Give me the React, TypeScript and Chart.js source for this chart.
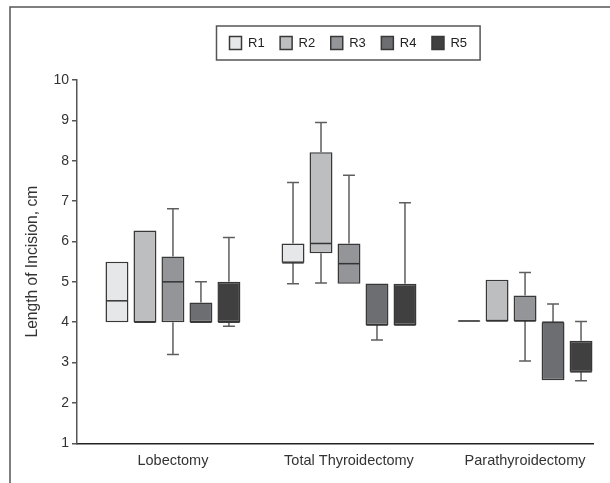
import React, { useEffect, useRef } from 'react';
import { Chart, registerables } from 'chart.js';

Chart.register(...registerables);

const categories = ['Lobectomy', 'Total Thyroidectomy', 'Parathyroidectomy'];
const seriesNames = ['R1', 'R2', 'R3', 'R4', 'R5'];
const seriesColors = ['#e6e7e8', '#bdbec0', '#939598', '#6d6e71', '#404041'];

// per series (R1..R5), per category
const minValues = [
  [4.0, 4.95, 4.02],
  [4.0, 4.97, 4.03],
  [3.2, 4.95, 3.04],
  [4.0, 3.56, 2.56],
  [3.9, 3.93, 2.55],
];
const q1Values = [
  [4.0, 5.47, 4.02],
  [4.0, 5.71, 4.03],
  [4.0, 4.95, 4.03],
  [4.0, 3.93, 2.56],
  [4.0, 3.93, 2.77],
];
const medianValues = [
  [4.53, 5.47, 4.03],
  [4.0, 5.95, 4.03],
  [5.0, 5.45, 4.03],
  [4.0, 3.93, 4.0],
  [4.0, 3.93, 2.77],
];
const q3Values = [
  [5.5, 5.95, 4.04],
  [6.27, 8.21, 5.05],
  [5.63, 5.95, 4.66],
  [4.49, 4.96, 4.0],
  [5.0, 4.95, 3.54],
];
const maxValues = [
  [5.5, 7.46, 4.04],
  [6.27, 8.95, 5.05],
  [6.81, 7.64, 5.23],
  [5.0, 4.96, 4.45],
  [6.1, 6.96, 4.02],
];
const yTickValues = [1, 2, 3, 4, 5, 6, 7, 8, 9, 10];

const family = '"Liberation Sans", Arial, Helvetica, sans-serif';

export default function App() {
  const ref = useRef<HTMLCanvasElement | null>(null);

  useEffect(() => {
    if (!ref.current) return;

    const yTickFont = 14;
    const xTickFont = 14.5;
    const titleFont = 15.6;
    const legendFont = 13;
    const boxW = 12;
    const boxH = 13;
    const legendPad = 15.5;
    const plotTop = 80;
    const legendH = Math.max(legendFont, boxH) + legendPad + 10;

    const frame = {
      id: 'frame',
      beforeDraw(chart: any) {
        const { ctx } = chart;
        ctx.save();
        ctx.strokeStyle = '#555';
        ctx.lineWidth = 1.5;
        ctx.beginPath();
        ctx.moveTo(10, chart.height);
        ctx.lineTo(10, 7);
        ctx.lineTo(chart.width, 7);
        ctx.stroke();
        ctx.restore();
      },
    };

    const legendPlace = {
      id: 'legendPlace',
      afterLayout(chart: any) {
        const lg = chart.legend;
        if (!lg || !lg.lineWidths) return;
        const rowStart = (lg.left + legendPad + lg.right - lg.lineWidths[0]) / 2;
        const dx = 229.5 - rowStart;
        lg.left += dx;
        lg.right += dx;
        const wantTop = 36.5 - legendPad - Math.max((legendFont - boxH) / 2, 0);
        const dy = wantTop - lg.top;
        lg.top += dy;
        lg.bottom += dy;
      },
      afterDraw(chart: any) {
        const lg = chart.legend;
        if (!lg || !lg.lineWidths) return;
        const rowStart = (lg.left + legendPad + lg.right - lg.lineWidths[0]) / 2;
        const rowEnd = rowStart + lg.lineWidths[0] - legendPad;
        const boxTop = lg.top + legendPad + Math.max((legendFont - boxH) / 2, 0);
        const { ctx } = chart;
        ctx.save();
        ctx.strokeStyle = '#555';
        ctx.lineWidth = 1.5;
        ctx.strokeRect(rowStart - 13, boxTop - 10.5, rowEnd - rowStart + 26, boxH + 21);
        ctx.restore();
      },
    };

    const boxExtras = {
      id: 'boxExtras',
      afterDatasetsDraw(chart: any) {
        const { ctx } = chart;
        const y = chart.scales.y;
        chart.data.datasets.forEach((_ds: any, s: number) => {
          const meta = chart.getDatasetMeta(s);
          meta.data.forEach((bar: any, i: number) => {
            const { x, width } = bar.getProps(['x', 'width'], true);
            const half = width / 2;
            const cap = width * 0.26;
            const pMin = y.getPixelForValue(minValues[s][i]);
            const pQ1 = y.getPixelForValue(q1Values[s][i]);
            const pMed = y.getPixelForValue(medianValues[s][i]);
            const pQ3 = y.getPixelForValue(q3Values[s][i]);
            const pMax = y.getPixelForValue(maxValues[s][i]);
            ctx.save();
            ctx.lineWidth = 1.5;
            ctx.strokeStyle = '#5e5e5e';
            ctx.beginPath();
            if (pQ3 - pMax > 0.5) {
              ctx.moveTo(x, pQ3);
              ctx.lineTo(x, pMax);
              ctx.moveTo(x - cap, pMax);
              ctx.lineTo(x + cap, pMax);
            }
            if (pMin - pQ1 > 0.5) {
              ctx.moveTo(x, pQ1);
              ctx.lineTo(x, pMin);
              ctx.moveTo(x - cap, pMin);
              ctx.lineTo(x + cap, pMin);
            }
            ctx.stroke();
            ctx.strokeStyle = '#333';
            ctx.beginPath();
            ctx.moveTo(x - half + 0.75, pMed);
            ctx.lineTo(x + half - 0.75, pMed);
            ctx.stroke();
            ctx.restore();
          });
        });
      },
    };

    const datasets = seriesNames.map((name, s) => ({
      label: name,
      data: categories.map((_c, i) => ({ x: i, y: [q1Values[s][i], q3Values[s][i]] })),
      backgroundColor: seriesColors[s],
      borderColor: '#383838',
      borderWidth: 1.5,
      borderSkipped: false,
      categoryPercentage: 0.795,
      barPercentage: 0.82,
    }));

    const chart = new Chart(ref.current, {
      type: 'bar',
      data: { datasets } as any,
      plugins: [frame, legendPlace, boxExtras],
      options: {
        animation: false,
        responsive: false,
        events: [],
        layout: { padding: { top: plotTop - legendH, right: 17, bottom: 0, left: 0 } },
        plugins: {
          legend: {
            display: true,
            position: 'top',
            labels: {
              boxWidth: boxW,
              boxHeight: boxH,
              padding: legendPad,
              color: '#222',
              font: { family, size: legendFont },
            },
          },
          tooltip: { enabled: false },
        },
        scales: {
          x: {
            type: 'linear',
            min: -0.545,
            max: 2.386,
            offset: false,
            grid: { display: false, drawTicks: false },
            border: { display: true, color: '#222', width: 1.5 },
            afterBuildTicks: (axis: any) => {
              axis.ticks = categories.map((_c, i) => ({ value: i }));
            },
            afterFit: (axis: any) => {
              axis.height = 39.7;
            },
            ticks: {
              autoSkip: false,
              maxRotation: 0,
              padding: 9,
              color: '#333',
              font: { family, size: xTickFont },
              callback: (v: any) => categories[v] ?? '',
            },
          },
          y: {
            min: 1,
            max: 10,
            afterBuildTicks: (axis: any) => {
              axis.ticks = yTickValues.map((v) => ({ value: v }));
            },
            afterFit: (axis: any) => {
              axis.width = 77;
            },
            grid: {
              display: true,
              drawOnChartArea: false,
              drawTicks: true,
              tickLength: 5,
              color: '#555',
              lineWidth: 1.5,
            },
            border: { display: true, color: '#555', width: 1.5 },
            ticks: {
              padding: 3,
              color: '#333',
              font: { family, size: yTickFont },
            },
            title: {
              display: true,
              text: 'Length of Incision, cm',
              color: '#333',
              font: { family, size: titleFont },
              padding: { top: 23, bottom: 0 },
            },
          },
        },
      } as any,
    });
    return () => chart.destroy();
  }, []);

  return (
    <div style={{ position: 'absolute', left: 0, top: 0, width: 610, height: 483, background: '#fff' }}>
      <canvas ref={ref} width={610} height={483} style={{ display: 'block', width: 610, height: 483 }} />
    </div>
  );
}
